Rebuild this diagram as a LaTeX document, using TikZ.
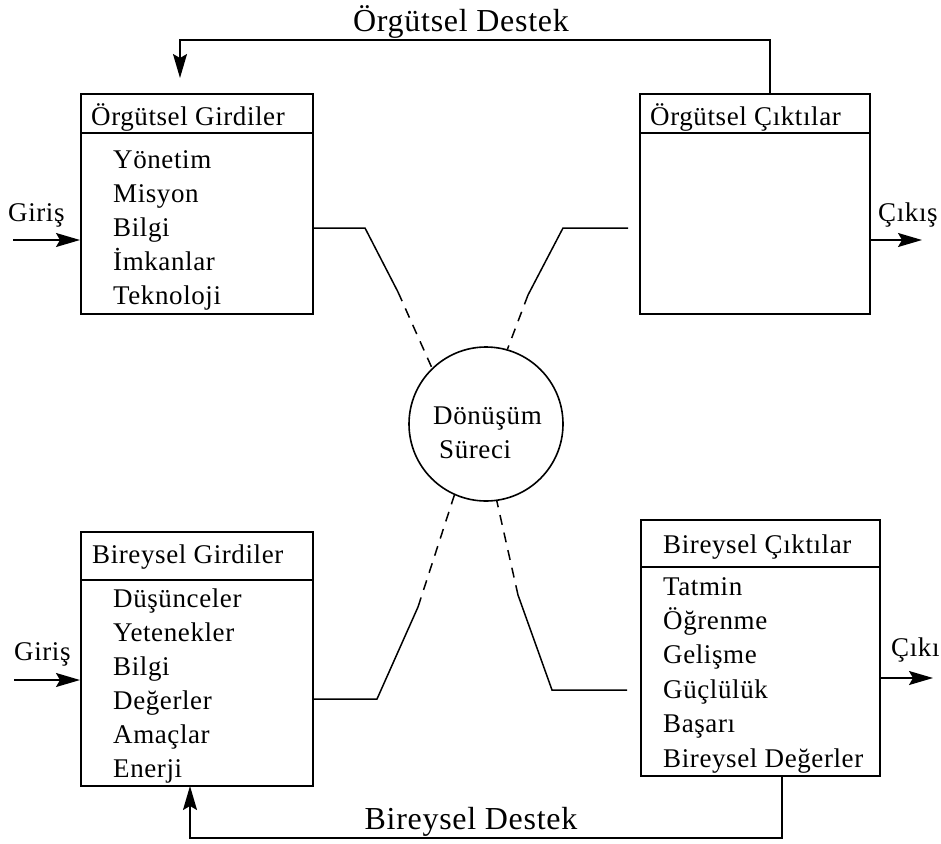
\documentclass[tikz,border=0pt]{standalone}
\usepackage{fontspec}
\setmainfont{Liberation Serif}[LetterSpace=2.2]
\usetikzlibrary{arrows.meta}
\begin{document}
\begin{tikzpicture}[x=1pt,y=-1pt,
  frame/.style={draw, line width=1.6pt, inner sep=0pt, anchor=north west},
  txt/.style={inner sep=0pt, anchor=base west, font=\fontsize{27}{34}\selectfont},
  big/.style={inner sep=0pt, anchor=base, font=\fontsize{32}{38}\selectfont},
  wire/.style={line width=1.5pt},
  dashwire/.style={line width=1.5pt, dash pattern=on 10pt off 8pt},
  flow/.style={line width=1.5pt, -{Stealth[length=24pt,width=14pt,inset=4pt]}},
]
\useasboundingbox (0,0) rectangle (941,843);

% ---- Örgütsel Girdiler
\node[frame, minimum width=232pt, minimum height=39pt] (ogh) at (80,93) {};
\node[frame, minimum width=232pt, minimum height=181pt] (ogb) at (80,132) {};
\node[txt] (ogt) at (91,125) {Örgütsel Girdiler};
\foreach \t [count=\i] in {Yönetim,Misyon,Bilgi,İmkanlar,Teknoloji}
  \node[txt] (og-\i) at (113,{168+34*(\i-1)}) {\t};

% ---- Örgütsel Çıktılar
\node[frame, minimum width=230pt, minimum height=39pt] (och) at (639,93) {};
\node[frame, minimum width=230pt, minimum height=181pt] (ocb) at (639,132) {};
\node[txt] (oct) at (650,125) {Örgütsel Çıktılar};

% ---- Bireysel Girdiler
\node[frame, minimum width=232pt, minimum height=48pt] (bgh) at (80,531) {};
\node[frame, minimum width=232pt, minimum height=206pt] (bgb) at (80,579) {};
\node[txt] (bgt) at (92,563) {Bireysel Girdiler};
\foreach \t [count=\i] in {Düşünceler,Yetenekler,Bilgi,Değerler,Amaçlar,Enerji}
  \node[txt] (bg-\i) at (113,{607+34*(\i-1)}) {\t};

% ---- Bireysel Çıktılar
\node[frame, minimum width=239pt, minimum height=47pt] (bch) at (640,519) {};
\node[frame, minimum width=239pt, minimum height=209pt] (bcb) at (640,566) {};
\node[txt] (bct) at (663,553) {Bireysel Çıktılar};
\foreach \t [count=\i] in {Tatmin,Öğrenme,Gelişme,Güçlülük,Başarı,Bireysel Değerler}
  \node[txt] (bc-\i) at (663,{595+34.4*(\i-1)}) {\t};

% ---- Dönüşüm Süreci
\node[draw, circle, line width=1.6pt, minimum size=154pt, inner sep=0pt] (proc) at (486,424) {};
\node[txt] (proc-a) at (433,424) {Dönüşüm};
\node[txt] (proc-b) at (439,458) {Süreci};

% ---- links between the boxes and the process
\coordinate (a1) at (365,228);
\coordinate (a2) at (398,292);
\draw[wire] (ogb.east |- 0,228) -- (a1) -- (a2);
\draw[dashwire] (a2) -- (proc.134);

\coordinate (b0) at (628,228);
\coordinate (b1) at (563,228);
\coordinate (b2) at (528,295);
\draw[wire] (b0) -- (b1) -- (b2);
\draw[dashwire] (b2) -- (proc.74);

\coordinate (c1) at (377,699);
\coordinate (c2) at (418,607);
\draw[wire] (bgb.east |- 0,699) -- (c1) -- (c2);
\draw[dashwire] (c2) -- (proc.246);

\coordinate (d0) at (627,690);
\coordinate (d1) at (552,690);
\coordinate (d2) at (518,595);
\draw[wire] (d0) -- (d1) -- (d2);
\draw[dashwire] (d2) -- (proc.278);

% ---- support loops
\coordinate (ods) at (770,93);
\coordinate (odTurn) at (180,40);
\coordinate (odEnd) at (180,78);
\draw[flow] (ods) |- (odTurn) -- (odEnd);
\node[big] (odl) at (461,32) {Örgütsel Destek};

\coordinate (bds) at (782,775);
\coordinate (bdTurn) at (190,838);
\coordinate (bdEnd) at (190,786);
\draw[flow] (bds) |- (bdTurn) -- (bdEnd);
\node[big] (bdl) at (471,829) {Bireysel Destek};

% ---- inputs and outputs
\coordinate (gi1) at (13,240);
\draw[flow] (gi1) -- (ogb.west |- gi1);
\node[txt] (gl1) at (8,221) {Giriş};

\coordinate (gi2) at (14,680);
\draw[flow] (gi2) -- (bgb.west |- gi2);
\node[txt] (gl2) at (14,660) {Giriş};

\coordinate (co1) at (922,240);
\draw[flow] (ocb.east |- co1) -- (co1);
\node[txt] (cl1) at (878,221) {Çıkış};

\coordinate (co2) at (933,678);
\draw[flow] (bcb.east |- co2) -- (co2);
\node[txt] (cl2) at (891,656) {Çıkış};
\end{tikzpicture}
\end{document}
